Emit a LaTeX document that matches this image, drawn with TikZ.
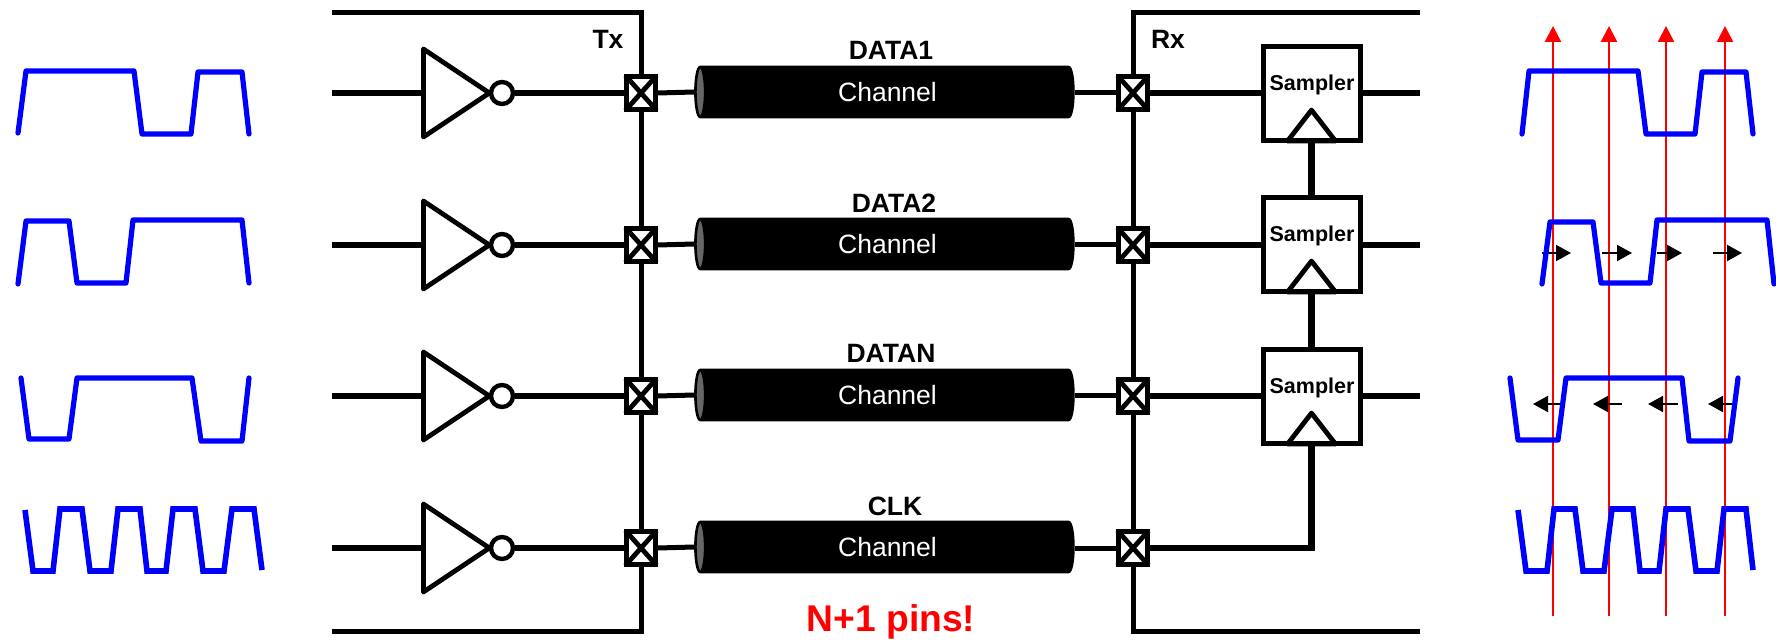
\documentclass[tikz,border=0pt]{standalone}
\usepackage{fontspec}
\setmainfont{Liberation Sans}
\usetikzlibrary{arrows.meta,shapes.geometric}

\tikzset{
  wire/.style={line width=2.5pt},
  fatwire/.style={line width=2.9pt},
  invtri/.style={draw,line width=2.4pt,line join=round,shape=isosceles triangle,isosceles triangle stretches,
    shape border rotate=0,minimum width=44pt,minimum height=33pt,inner sep=0pt},
  clktri/.style={draw,line width=2.4pt,line join=round,shape=isosceles triangle,isosceles triangle stretches,
    shape border rotate=90,minimum width=24pt,minimum height=15.5pt,inner sep=0pt},
  bubble/.style={draw,circle,line width=2.2pt,minimum size=11pt,inner sep=0pt},
  padbox/.style={draw,fill=white,line width=2.5pt,minimum width=14.5pt,minimum height=16.5pt,inner sep=0pt},
  padcross/.style={line width=2.4pt,shorten >=1pt,shorten <=1pt},
  samplerbox/.style={draw,line width=2.5pt,minimum width=48.5pt,minimum height=47pt,inner sep=0pt},
  chanpipe/.style={draw,line width=1.3pt,shape=cylinder,shape border rotate=180,aspect=.5,
    cylinder uses custom fill,cylinder body fill=black,cylinder end fill=black!60,
    minimum width=25pt,minimum height=189pt,inner sep=0pt,text=white,font=\fontsize{13.25}{15}\selectfont},
  lab/.style={font=\bfseries\fontsize{13.25}{15}\selectfont,inner sep=0pt},
  samplab/.style={font=\bfseries\fontsize{10.75}{12}\selectfont,inner sep=0pt},
  wave/.style={draw=blue,line width=2.6pt,line join=round,line cap=round},
  clkwave/.style={draw=blue,line width=2.8pt,line join=miter},
  strobe/.style={draw=red,line width=1.25pt,-{Triangle[length=8pt,width=8pt]}},
  skew/.style={draw=black,line width=1pt,-{Triangle[length=7.5pt,width=8pt]}}
}

\begin{document}
\begin{tikzpicture}[x=.5pt,y=-.5pt]
        \useasboundingbox (0,0) rectangle (1776,640);

        %%% rows %%%
        \foreach \i/\y in {1/93, 2/245, 3/396, 4/548}{
          \coordinate (in\i) at (332,\y);
          \node[invtri,anchor=lower side] (inv\i) at (421,\y) {};
          \node[bubble] (bub\i) at (502,\y) {};
          \node[padbox] (padtx\i) at (641,\y) {};
          \node[chanpipe] (chan\i) at (887.5,\y-1) {Channel};
          \node[padbox] (padrx\i) at (1133,\y) {};
          \draw[fatwire] (in\i) -- (inv\i.lower side);
          \draw[fatwire] (bub\i.east) -- (padtx\i.west);
          \draw[wire] (padtx\i.east) -- (chan\i.west);
          \draw[wire] (padrx\i.west -| chan\i.east) -- (padrx\i.west);
          \draw[padcross] (padtx\i.north west) -- (padtx\i.south east);
          \draw[padcross] (padtx\i.north east) -- (padtx\i.south west);
          \draw[padcross] (padrx\i.north west) -- (padrx\i.south east);
          \draw[padcross] (padrx\i.north east) -- (padrx\i.south west);
        }

        %%% samplers %%%
        \foreach \i/\y in {1/94, 2/245, 3/397}{
          \node[samplerbox] (samp\i) at (1311.5,\y) {};
          \node[samplab] (samptxt\i) at (1312,\y-9) {Sampler};
          \node[clktri,anchor=lower side] (clk\i) at (samp\i.south) {};
        }
        \foreach \i in {1, 2, 3}{
          \coordinate (out\i) at (1420,0 |- padrx\i);
          \draw[fatwire] (padrx\i.east) -- (padrx\i.east -| samp\i.west);
          \draw[fatwire] (padrx\i.east -| samp\i.east) -- (out\i);
        }
        \draw[line width=3.2pt] (samp1.south) -- (samp2.north);
        \draw[line width=3.2pt] (samp2.south) -- (samp3.north);
        \draw[line width=3.2pt] (padrx4.east) -| (samp3.south);

        %%% Tx and Rx edges %%%
        \coordinate (txtop) at (332,13);
        \coordinate (txbot) at (332,631);
        \coordinate (rxtop) at (1420,13);
        \coordinate (rxbot) at (1420,631);
        \draw[wire] (txtop) -| (padtx1.north);
        \draw[wire] (rxtop) -| (padrx1.north);
        \draw[wire] (txbot) -| (padtx4.south);
        \draw[wire] (rxbot) -| (padrx4.south);
        \foreach \i/\j in {1/2, 2/3, 3/4}{
          \draw[wire] (padtx\i.south) -- (padtx\j.north);
          \draw[wire] (padrx\i.south) -- (padrx\j.north);
        }

        %%% labels %%%
        \draw (608,39) node[lab] (tx) {Tx};
        \draw (1168,39) node[lab] (rx) {Rx};
        \draw (891,50) node[lab] (lab1) {DATA1};
        \draw (894,203) node[lab] (lab2) {DATA2};
        \draw (891,353) node[lab] (lab3) {DATAN};
        \draw (895,506) node[lab] (lab4) {CLK};
        \draw (891,622) node[lab,text=red,font=\bfseries\fontsize{18.6}{20}\selectfont] (pins) {N+1 pins!};

        %%% left waves %%%
        \draw[wave] (18,133) -- (26,71) -- (134,71) -- (142,134) -- (191,134) -- (198,72) -- (242,72) -- (249,134);
        \draw[wave] (18,284) -- (26,221) -- (69,221) -- (77,283) -- (126,283) -- (133,220) -- (242,220) -- (249,283);
        \draw[wave] (21,378) -- (29,439) -- (69,439) -- (77,378) -- (192,378) -- (201,441) -- (242,441) -- (249,378);
        \draw[clkwave] (25,510) -- (33,571) -- (53,571) -- (60,509) -- (82,509) -- (90,571) -- (111,571) -- (118,509)
          -- (140,509) -- (147,571) -- (166,571) -- (173,509) -- (195,509) -- (203,571) -- (224,571) -- (232,509)
          -- (254,509) -- (262,570);

        %%% strobes %%%
        \foreach \i/\x in {1/1553, 2/1609, 3/1666, 4/1725}{
          \coordinate (stbot\i) at (\x,616);
          \coordinate (sttop\i) at (\x,26);
          \draw[strobe] (stbot\i) -- (sttop\i);
        }

        %%% skew arrows %%%
        \foreach \i/\a/\b in {1/1542/1571, 2/1602/1632, 3/1657/1682, 4/1713/1742}{
          \coordinate (ea\i) at (\a,253);
          \coordinate (eb\i) at (\b,253);
          \draw[skew] (ea\i) -- (eb\i);
        }
        \foreach \i/\a/\b in {1/1560/1533, 2/1622/1593, 3/1678/1648, 4/1733/1708}{
          \coordinate (la\i) at (\a,404);
          \coordinate (lb\i) at (\b,404);
          \draw[skew] (la\i) -- (lb\i);
        }

        %%% right waves %%%
        \draw[wave] (1522,134) -- (1529,71) -- (1638,71) -- (1646,134) -- (1695,134) -- (1702,72) -- (1746,72) -- (1753,134);
        \draw[wave] (1542,284) -- (1550,222) -- (1593,222) -- (1601,283) -- (1650,283) -- (1657,220) -- (1767,220) -- (1774,284);
        \draw[wave] (1510,378) -- (1518,440) -- (1558,440) -- (1566,378) -- (1682,378) -- (1689,441) -- (1730,441) -- (1738,378);
        \draw[clkwave] (1518,510) -- (1526,571) -- (1547,571) -- (1554,509) -- (1575,509) -- (1583,571) -- (1604,571) -- (1612,509)
          -- (1633,509) -- (1640,571) -- (1659,571) -- (1666,509) -- (1688,509) -- (1696,571) -- (1717,571) -- (1724,509)
          -- (1746,509) -- (1753,570);

      \end{tikzpicture}
\end{document}
